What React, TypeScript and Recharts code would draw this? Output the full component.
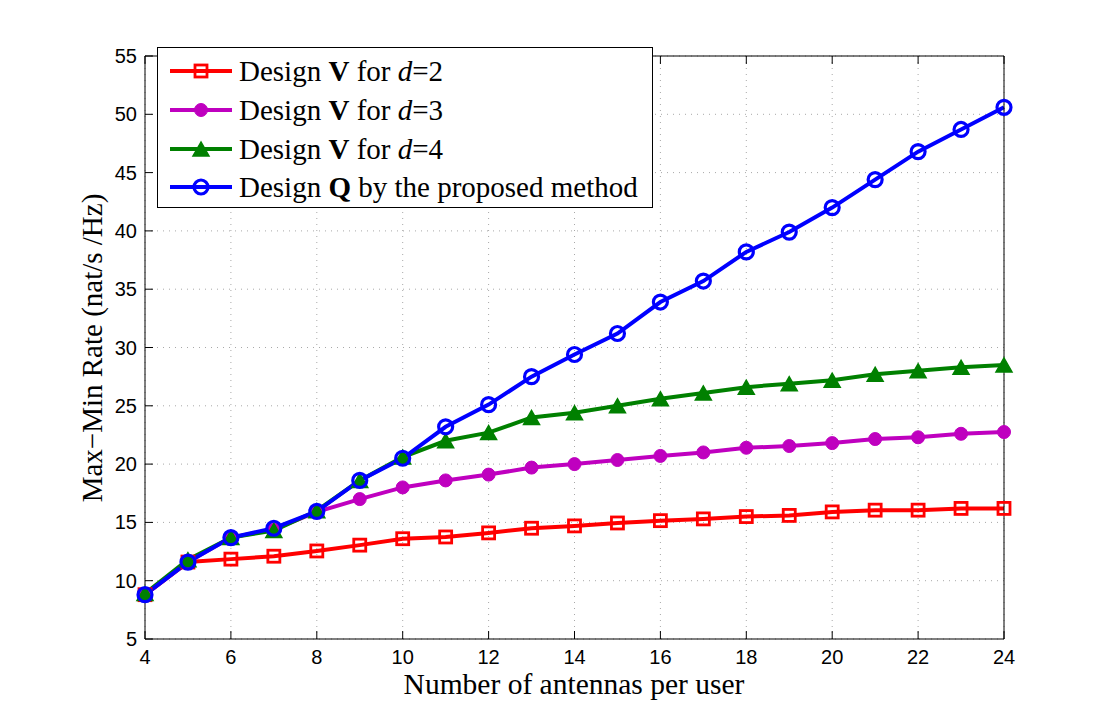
import React from "react";
import { LineChart, Line, XAxis, YAxis, CartesianGrid } from "recharts";

// antennas per user and the max-min rate (nat/s/Hz) of each design
const antennas = [4, 5, 6, 7, 8, 9, 10, 11, 12, 13, 14, 15, 16, 17, 18, 19, 20, 21, 22, 23, 24];
const rateD2 = [8.8, 11.6, 11.85, 12.1, 12.55, 13.05, 13.6, 13.75, 14.1, 14.5, 14.7, 14.95, 15.15, 15.3, 15.5, 15.6, 15.9, 16.05, 16.05, 16.2, 16.2];
const rateD3 = [8.8, 11.6, 13.7, 14.4, 15.9, 17.0, 18.0, 18.6, 19.1, 19.7, 20.0, 20.35, 20.7, 21.0, 21.4, 21.55, 21.8, 22.15, 22.3, 22.6, 22.75];
const rateD4 = [8.9, 11.8, 13.7, 14.3, 16.0, 18.6, 20.6, 22.0, 22.7, 24.0, 24.4, 25.0, 25.6, 26.1, 26.6, 26.9, 27.2, 27.7, 28.0, 28.3, 28.5];
const rateQ = [8.8, 11.6, 13.7, 14.5, 15.95, 18.6, 20.5, 23.2, 25.1, 27.5, 29.4, 31.2, 33.9, 35.7, 38.2, 39.9, 42.0, 44.4, 46.8, 48.7, 50.6];

const xTicks = [4, 6, 8, 10, 12, 14, 16, 18, 20, 22, 24];
const yTicks = [5, 10, 15, 20, 25, 30, 35, 40, 45, 50, 55];

const RED = "#ff0000";
const MAGENTA = "#bf00bf";
const GREEN = "#008000";
const BLUE = "#0000ff";

const TICK_FONT = '"Liberation Sans", Arial, sans-serif';
const SERIF = '"Liberation Serif", "Times New Roman", serif';
const TICK_LEN = 8;
const LINE_W = 4;

const rows = antennas.map((n, i) => ({
  n,
  d2: rateD2[i],
  d3: rateD3[i],
  d4: rateD4[i],
  q: rateQ[i],
}));

// marker shapes (MATLAB style: s, filled o, filled ^, o)
function Square({ cx, cy, color }: any) {
  const s = 12;
  return <rect x={cx - s / 2} y={cy - s / 2} width={s} height={s} fill="none" stroke={color} strokeWidth={2.8} />;
}
function Dot({ cx, cy, color }: any) {
  return <circle cx={cx} cy={cy} r={6.5} fill={color} stroke={color} strokeWidth={1} />;
}
function Tri({ cx, cy, color }: any) {
  const w = 16, h = 14;
  return (
    <polygon
      points={`${cx},${cy - h / 2} ${cx - w / 2},${cy + h / 2} ${cx + w / 2},${cy + h / 2}`}
      fill={color}
      stroke={color}
      strokeWidth={1.5}
    />
  );
}
function Ring({ cx, cy, color }: any) {
  return <circle cx={cx} cy={cy} r={7} fill="none" stroke={color} strokeWidth={3.2} />;
}

const marker = (Shape: any, color: string) => (p: any) =>
  p.cx == null ? <g key={p.index} /> : <Shape key={p.index} cx={p.cx} cy={p.cy} color={color} />;

// inward ticks on all four sides of the box
const bottomTick = ({ x, y, payload }: any) => (
  <g>
    <line x1={x} y1={y} x2={x} y2={y - TICK_LEN} stroke="#000" />
    <text x={x} y={y + 25} textAnchor="middle" fontSize={20} fontFamily={TICK_FONT} fill="#000">
      {payload.value}
    </text>
  </g>
);
const topTick = ({ x, y }: any) => <line x1={x} y1={y} x2={x} y2={y + TICK_LEN} stroke="#000" />;
const leftTick = ({ x, y, payload }: any) => (
  <g>
    <line x1={x} y1={y} x2={x + TICK_LEN} y2={y} stroke="#000" />
    <text x={x - 8} y={y + 7} textAnchor="end" fontSize={20} fontFamily={TICK_FONT} fill="#000">
      {payload.value}
    </text>
  </g>
);
const rightTick = ({ x, y }: any) => <line x1={x} y1={y} x2={x - TICK_LEN} y2={y} stroke="#000" />;

const legendItems = [
  { color: RED, Shape: Square, bold: "V", tail: "d2" },
  { color: MAGENTA, Shape: Dot, bold: "V", tail: "d3" },
  { color: GREEN, Shape: Tri, bold: "V", tail: "d4" },
  { color: BLUE, Shape: Ring, bold: "Q", tail: "q" },
];

function LegendText({ item }: any) {
  if (item.tail === "q") {
    return (
      <>
        Design <b>Q</b> by the proposed method
      </>
    );
  }
  const d = item.tail.slice(1);
  return (
    <>
      Design <b>{item.bold}</b> for <i>d</i>={d}
    </>
  );
}

export default function App() {
  return (
    <div style={{ position: "absolute", left: 0, top: 0, width: 1109, height: 719, background: "#fff" }}>
      <LineChart
        width={1109}
        height={719}
        data={rows}
        margin={{ top: 46, right: 95, bottom: 50, left: 105 }}
      >
        <CartesianGrid stroke="#a8a8a8" strokeDasharray="1 5" strokeWidth={1} />
        <XAxis
          dataKey="n"
          type="number"
          domain={[4, 24]}
          ticks={xTicks}
          height={30}
          tickSize={0}
          tickMargin={0}
          tickLine={false}
          axisLine={{ stroke: "#000" }}
          tick={bottomTick}
          interval={0}
        />
        <XAxis
          xAxisId="top"
          orientation="top"
          dataKey="n"
          type="number"
          domain={[4, 24]}
          ticks={xTicks}
          height={10}
          tickSize={0}
          tickMargin={0}
          tickLine={false}
          axisLine={{ stroke: "#000" }}
          tick={topTick}
          interval={0}
        />
        <YAxis
          type="number"
          domain={[5, 55]}
          ticks={yTicks}
          width={40}
          tickSize={0}
          tickMargin={0}
          tickLine={false}
          axisLine={{ stroke: "#000" }}
          tick={leftTick}
          interval={0}
        />
        <YAxis
          yAxisId="right"
          orientation="right"
          type="number"
          domain={[5, 55]}
          ticks={yTicks}
          width={10}
          tickSize={0}
          tickMargin={0}
          tickLine={false}
          axisLine={{ stroke: "#000" }}
          tick={rightTick}
          interval={0}
        />
        <Line dataKey="d2" type="linear" stroke={RED} strokeWidth={LINE_W} dot={marker(Square, RED)} activeDot={false} isAnimationActive={false} />
        <Line dataKey="d3" type="linear" stroke={MAGENTA} strokeWidth={LINE_W} dot={marker(Dot, MAGENTA)} activeDot={false} isAnimationActive={false} />
        <Line dataKey="d4" type="linear" stroke={GREEN} strokeWidth={LINE_W} dot={marker(Tri, GREEN)} activeDot={false} isAnimationActive={false} />
        <Line dataKey="q" type="linear" stroke={BLUE} strokeWidth={LINE_W} dot={marker(Ring, BLUE)} activeDot={false} isAnimationActive={false} />
      </LineChart>

      <svg width={1109} height={719} style={{ position: "absolute", left: 0, top: 0, pointerEvents: "none" }}>
        <text x={574} y={694} textAnchor="middle" fontSize={29.5} fontFamily={SERIF} fill="#000">
          Number of antennas per user
        </text>
        <text
          transform="translate(102,348) rotate(-90)"
          textAnchor="middle"
          fontSize={29}
          fontFamily={SERIF}
          fill="#000"
        >
          Max−Min Rate (nat/s /Hz)
        </text>
      </svg>

      <div
        style={{
          position: "absolute",
          left: 157,
          top: 47,
          width: 496,
          height: 161,
          boxSizing: "border-box",
          border: "1px solid #000",
          background: "#fff",
          fontFamily: SERIF,
          fontSize: 29,
          color: "#000",
        }}
      >
        {legendItems.map((item, i) => (
          <div
            key={item.tail}
            style={{
              position: "absolute",
              left: 12,
              top: 23 + i * 38.8 - 19,
              height: 38,
              display: "flex",
              alignItems: "center",
              whiteSpace: "nowrap",
            }}
          >
            <svg width={62} height={38} style={{ marginRight: 7 }}>
              <line x1={0} y1={19} x2={62} y2={19} stroke={item.color} strokeWidth={LINE_W} />
              <item.Shape cx={31} cy={19} color={item.color} />
            </svg>
            <span style={{ lineHeight: "38px" }}>
              <LegendText item={item} />
            </span>
          </div>
        ))}
      </div>
    </div>
  );
}
